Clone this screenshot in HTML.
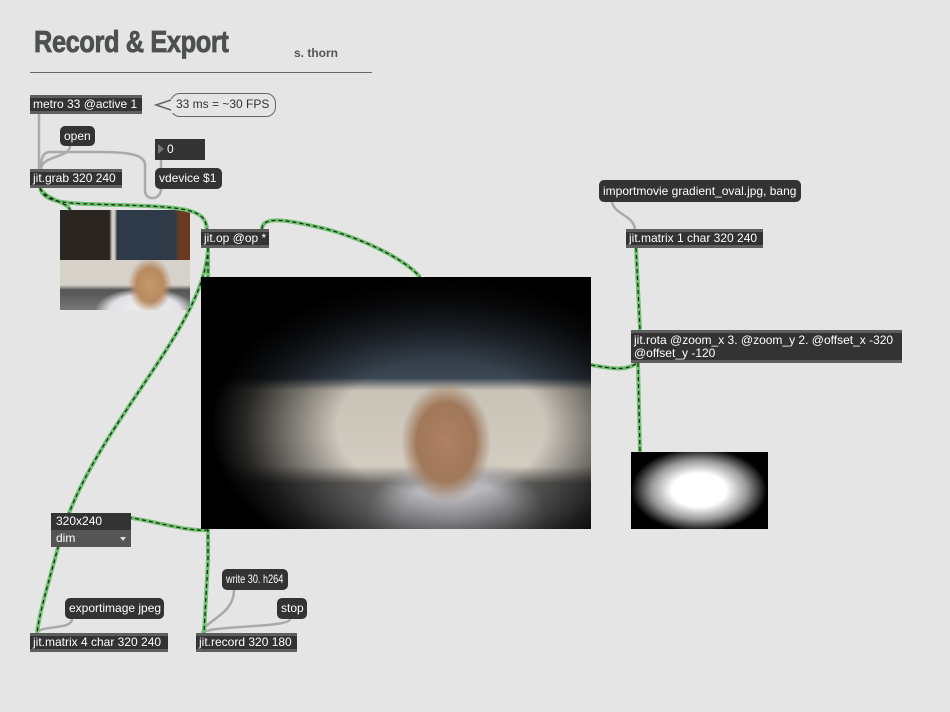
<!DOCTYPE html>
<html><head><meta charset="utf-8"><style>
body{margin:0;width:950px;height:712px;background:#e5e5e5;position:relative;overflow:hidden;font-family:"Liberation Sans",Arial,sans-serif;}
.o{position:absolute;background:#333;color:#fff;font-size:12px;box-sizing:border-box;border-top:3px solid #5e5e5e;border-bottom:3px solid #5e5e5e;padding:0 3px;line-height:13px;white-space:nowrap;}
.m{position:absolute;background:#333;color:#fff;font-size:12px;border-radius:5px;box-sizing:border-box;padding:0 4px;line-height:21px;height:21px;white-space:nowrap;}
.a{position:absolute;}
.big{left:201px;top:277px;width:390px;height:252px;background:
radial-gradient(ellipse 230px 150px at 240px 150px,rgba(0,0,0,0) 45%,rgba(0,0,0,0.8) 85%,#000 100%),
radial-gradient(ellipse 45px 60px at 245px 165px,#b08062 0%,#a0785a 65%,rgba(0,0,0,0) 100%),
radial-gradient(ellipse 90px 60px at 255px 240px,#c8c8cc 0%,#b8b8bc 60%,rgba(0,0,0,0) 100%),
linear-gradient(to bottom,#1a1a1c 0%,#2a323c 20%,#3a4652 40%,#c9c3b7 45%,#d2ccc1 75%,#6a6866 82%,#9a9a9e 100%);}
</style></head><body>
<div class="a" style="left:34px;top:24px;font-size:31px;font-weight:bold;color:#4d5050;transform:scaleX(0.82);transform-origin:left;letter-spacing:-0.5px;-webkit-text-stroke:0.8px #4d5050;">Record &amp; Export</div>
<div class="a" style="left:294px;top:46px;font-size:12px;font-weight:bold;color:#555;">s. thorn</div>
<div class="a" style="left:30px;top:72px;width:342px;height:1px;background:#666;"></div>

<div class="a" style="left:60px;top:210px;width:130px;height:100px;background:
linear-gradient(to right,#2a2520 0%,#2a2520 38%,#d0ccc4 40%,#d0ccc4 42%,#2e3a48 44%,#2e3a48 88%,#6a3a20 92%),
#333;"></div>
<div class="a" style="left:60px;top:260px;width:130px;height:50px;background:
radial-gradient(ellipse 22px 28px at 90px 25px,#c49a6c 0%,#b88a60 60%,rgba(0,0,0,0) 100%),
radial-gradient(ellipse 50px 22px at 85px 50px,#f0f0f2 0%,#e2e2e6 70%,rgba(0,0,0,0) 100%),
linear-gradient(to bottom,#d6d2ca 0%,#d6d2ca 50%,#555 60%,#777 100%);"></div>
<div class="a" style="left:631px;top:452px;width:137px;height:77px;background:radial-gradient(ellipse 68px 42px at 68px 38px,#fff 0%,#fff 40%,#999 70%,#000 100%);"></div>

<svg class="a" style="left:0;top:0" width="950" height="712">
<g fill="none" stroke="#aaa" stroke-width="2.5">
<path d="M39,114 L39,169"/>
<path d="M70,146 C70,158 42,155 41,169"/>
<path d="M161,160 L161,168"/>
<path d="M161,189 C161,200 145,202 145,190 L145,165 C145,155 130,152 100,152 L50,152 C42,152 41,160 41,169"/>
<path d="M612,202 C615,215 633,215 635,229"/>
<path d="M72,619 C72,630 40,625 37,633"/>
<path d="M234,590 C234,615 205,620 202,633"/>
<path d="M290,619 C290,628 210,625 202,633"/>
</g>
<g fill="none">
<g stroke="#6fc36f" stroke-width="4">
<path d="M40,188 C45,205 70,203 120,205 C190,207 205,210 207,229"/>
<path d="M40,188 C46,200 68,202 70,210"/>
<path d="M262,229 C262,215 290,220 330,230 C380,245 410,265 420,277"/>
<path d="M591,365 C610,368 625,372 637,363"/>
<path d="M208,248 C205,330 90,430 60,540 C48,585 40,610 37,633"/>
<path d="M208,248 L208,560 L204,633"/>
<path d="M208,530 C180,532 140,515 100,515 C80,515 70,518 60,520"/>
<path d="M636,248 L640,330"/>
<path d="M638,363 L640,452"/>
</g>
<g stroke="#1f2a1f" stroke-width="1.3" stroke-dasharray="4 3">
<path d="M40,188 C45,205 70,203 120,205 C190,207 205,210 207,229"/>
<path d="M40,188 C46,200 68,202 70,210"/>
<path d="M262,229 C262,215 290,220 330,230 C380,245 410,265 420,277"/>
<path d="M591,365 C610,368 625,372 637,363"/>
<path d="M208,248 C205,330 90,430 60,540 C48,585 40,610 37,633"/>
<path d="M208,248 L208,560 L204,633"/>
<path d="M208,530 C180,532 140,515 100,515 C80,515 70,518 60,520"/>
<path d="M636,248 L640,330"/>
<path d="M638,363 L640,452"/>
</g>
</g>
</svg>
<div class="a big"></div>

<div class="o" style="left:30px;top:95px;width:112px;height:19px;">metro 33 @active 1</div>
<div class="a" style="left:170px;top:93px;width:106px;height:24px;box-sizing:border-box;border:1.5px solid #666;border-radius:10px;font-size:12px;line-height:21px;padding-left:5px;color:#333;">33 ms = ~30 FPS</div>
<svg class="a" style="left:154px;top:97px" width="20" height="18"><path d="M17,3 L2,8 L17,13" fill="#e5e5e5" stroke="#666" stroke-width="1.5"/><rect x="17" y="2" width="3" height="14" fill="#e5e5e5"/></svg>
<div class="m" style="left:60px;top:126px;width:35px;height:20px;line-height:20px;">open</div>
<div class="a" style="left:155px;top:139px;width:50px;height:21px;background:#333;color:#fff;font-size:12px;line-height:21px;"><span style="display:inline-block;width:0;height:0;border-left:6px solid #777;border-top:5px solid transparent;border-bottom:5px solid transparent;margin:0 3px 0 3px;vertical-align:-1px;"></span>0</div>
<div class="m" style="left:155px;top:168px;width:67px;">vdevice $1</div>
<div class="o" style="left:30px;top:169px;width:92px;height:19px;">jit.grab 320 240</div>
<div class="o" style="left:201px;top:229px;width:68px;height:19px;">jit.op @op *</div>
<div class="m" style="left:599px;top:180px;width:202px;height:22px;line-height:22px;">importmovie gradient_oval.jpg, bang</div>
<div class="o" style="left:626px;top:229px;width:137px;height:19px;">jit.matrix 1 char 320 240</div>
<div class="o" style="left:631px;top:330px;width:271px;height:33px;line-height:13px;white-space:normal;padding-top:1px;">jit.rota @zoom_x 3. @zoom_y 2. @offset_x -320 @offset_y -120</div>
<div class="a" style="left:51px;top:513px;width:80px;height:34px;font-size:12px;color:#fff;">
<div style="background:#333;height:17px;line-height:17px;padding-left:5px;">320x240</div>
<div style="background:#555;height:17px;line-height:17px;padding-left:5px;position:relative;">dim<span style="position:absolute;right:5px;top:7px;border-top:4px solid #ddd;border-left:3px solid transparent;border-right:3px solid transparent;"></span></div></div>
<div class="m" style="left:65px;top:598px;width:99px;">exportimage jpeg</div>
<div class="o" style="left:30px;top:633px;width:138px;height:19px;">jit.matrix 4 char 320 240</div>
<div class="m" style="left:222px;top:569px;width:66px;padding:0 4px;"><span style="display:inline-block;transform:scaleX(0.76);transform-origin:left;">write 30. h264</span></div>
<div class="m" style="left:277px;top:598px;width:30px;">stop</div>
<div class="o" style="left:196px;top:633px;width:101px;height:19px;">jit.record 320 180</div>
</body></html>
